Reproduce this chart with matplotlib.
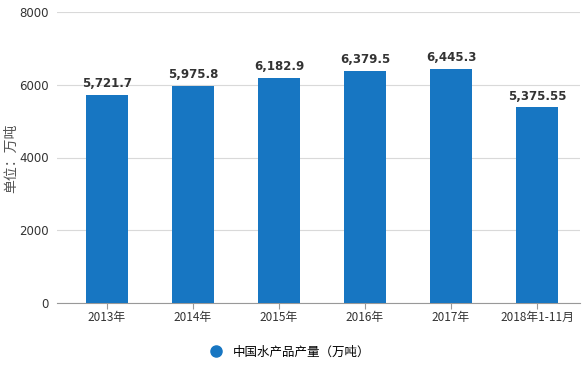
import matplotlib.pyplot as plt
from matplotlib.lines import Line2D

plt.rcParams['font.family'] = ['Noto Sans CJK SC', 'DejaVu Sans']

years = ['2013年', '2014年', '2015年', '2016年', '2017年', '2018年1-11月']
output = [5721.7, 5975.8, 6182.9, 6379.5, 6445.3, 5375.55]
labels = ['5,721.7', '5,975.8', '6,182.9', '6,379.5', '6,445.3', '5,375.55']
yticks = [0, 2000, 4000, 6000, 8000]

bar_color = '#1776c2'

fig = plt.figure(figsize=(5.85, 3.84), dpi=100)
ax = fig.add_axes([57 / 585, 1 - 303 / 384, 523 / 585, 291 / 384])

x = list(range(len(years)))
ax.bar(x, output, width=0.48, color=bar_color, zorder=3)
for xi, v, lab in zip(x, output, labels):
    ax.text(xi, v + 130, lab, ha='center', va='bottom', fontsize=8.5,
            fontweight='bold', color='#333333', family='DejaVu Sans')

ax.set_ylim(0, 8000)
ax.set_xlim(-0.5 - 7 / 86, len(years) - 0.5)
ax.set_yticks(yticks)
ax.set_yticklabels([str(t) for t in yticks], family='DejaVu Sans')
ax.set_xticks(x)
ax.set_xticklabels(years)
ax.yaxis.grid(True, color='#d9d9d9', linewidth=0.8, zorder=0)

for s in ['top', 'right', 'left']:
    ax.spines[s].set_visible(False)
ax.spines['bottom'].set_color('#999999')
ax.tick_params(axis='y', length=0, labelsize=8.5, labelcolor='#333333', pad=6)
ax.tick_params(axis='x', length=4, color='#999999', labelsize=8.5,
               labelcolor='#333333', pad=2)

fig.text(11 / 585, 1 - 158 / 384, '单位：万吨', rotation=90, ha='center',
         va='center', fontsize=10, color='#555555')

handle = Line2D([], [], marker='o', linestyle='none', markersize=8,
                markerfacecolor=bar_color, markeredgecolor=bar_color)
fig.legend([handle], ['中国水产品产量（万吨）'], loc='center',
           bbox_to_anchor=(287 / 585, 1 - 352 / 384), frameon=False,
           fontsize=9, handletextpad=0.3)

fig.savefig('out.png', dpi=100)
